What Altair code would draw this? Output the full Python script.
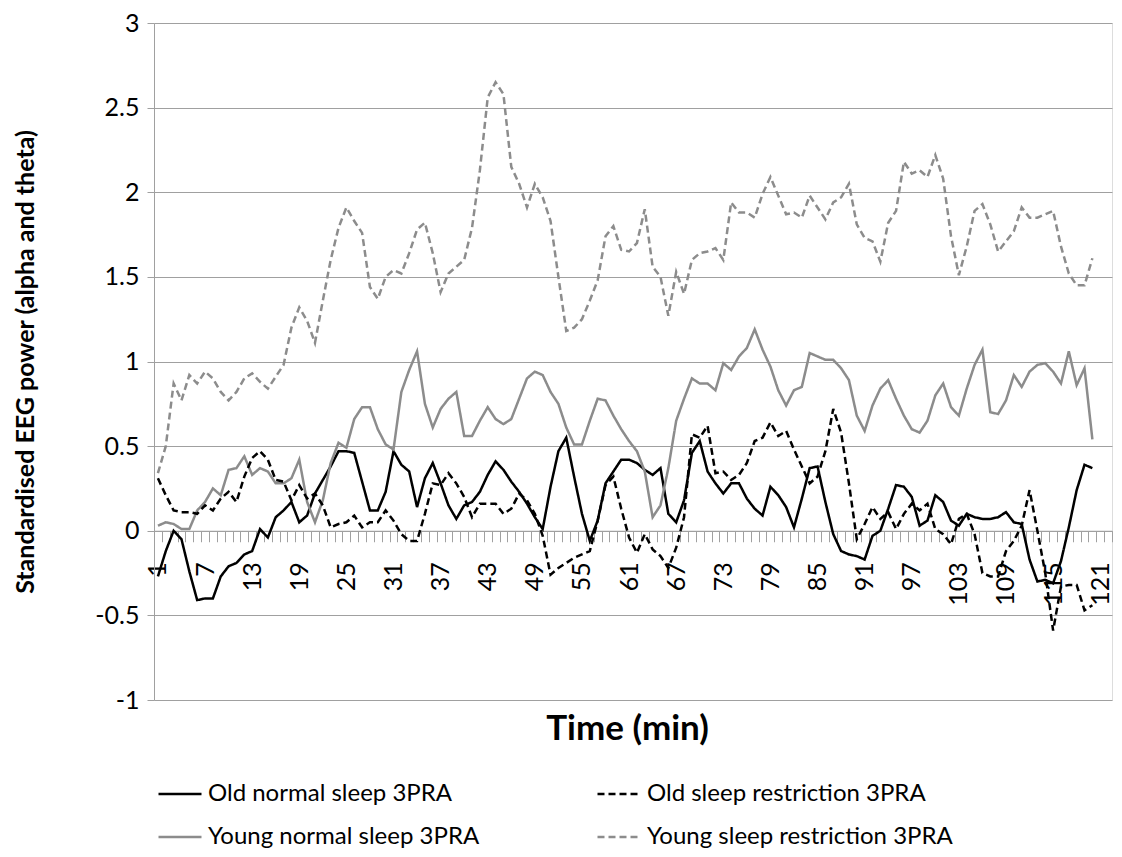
import altair as alt
import pandas as pd

minutes = list(range(1, 121))

old_normal = [-0.27, -0.12, 0.00, -0.05, -0.24, -0.41, -0.40, -0.40, -0.27, -0.21,
              -0.19, -0.14, -0.12, 0.01, -0.04, 0.08, 0.12, 0.17, 0.05, 0.09,
              0.22, 0.30, 0.38, 0.47, 0.47, 0.46, 0.29, 0.12, 0.12, 0.23,
              0.47, 0.39, 0.35, 0.14, 0.31, 0.40, 0.28, 0.15, 0.07, 0.15,
              0.17, 0.23, 0.33, 0.41, 0.36, 0.29, 0.23, 0.16, 0.08, 0.01,
              0.26, 0.47, 0.55, 0.32, 0.10, -0.06, 0.06, 0.28, 0.35, 0.42,
              0.42, 0.40, 0.36, 0.33, 0.37, 0.10, 0.05, 0.18, 0.46, 0.53,
              0.35, 0.28, 0.22, 0.28, 0.28, 0.19, 0.13, 0.09, 0.26, 0.21,
              0.14, 0.02, 0.19, 0.37, 0.38, 0.17, -0.02, -0.12, -0.14, -0.15,
              -0.17, -0.03, 0.00, 0.13, 0.27, 0.26, 0.20, 0.03, 0.06, 0.21,
              0.17, 0.06, 0.03, 0.10, 0.08, 0.07, 0.07, 0.08, 0.11, 0.05,
              0.04, -0.17, -0.30, -0.29, -0.31, -0.18, 0.02, 0.24, 0.39, 0.37]

old_restriction = [0.31, 0.21, 0.12, 0.11, 0.11, 0.10, 0.15, 0.12, 0.19, 0.23,
                   0.17, 0.32, 0.43, 0.47, 0.42, 0.30, 0.29, 0.18, 0.27, 0.19,
                   0.22, 0.15, 0.02, 0.04, 0.05, 0.09, 0.02, 0.05, 0.05, 0.12,
                   0.06, -0.02, -0.06, -0.06, 0.10, 0.28, 0.27, 0.34, 0.28, 0.20,
                   0.08, 0.16, 0.16, 0.16, 0.10, 0.13, 0.22, 0.18, 0.10, -0.03,
                   -0.26, -0.22, -0.19, -0.16, -0.14, -0.12, 0.06, 0.27, 0.32, 0.13,
                   -0.04, -0.13, -0.02, -0.11, -0.15, -0.22, -0.10, 0.08, 0.57, 0.55,
                   0.62, 0.34, 0.35, 0.30, 0.33, 0.40, 0.53, 0.55, 0.64, 0.56,
                   0.59, 0.48, 0.38, 0.28, 0.32, 0.47, 0.72, 0.58, 0.28, -0.05,
                   0.04, 0.14, 0.07, 0.11, 0.01, 0.10, 0.16, 0.12, 0.16, 0.01,
                   -0.02, -0.08, 0.07, 0.10, -0.02, -0.25, -0.27, -0.27, -0.12, -0.06,
                   0.03, 0.24, 0.00, -0.25, -0.59, -0.33, -0.32, -0.32, -0.47, -0.44]

young_normal = [0.03, 0.05, 0.04, 0.01, 0.01, 0.12, 0.17, 0.25, 0.21, 0.36,
                0.37, 0.44, 0.33, 0.37, 0.35, 0.28, 0.28, 0.31, 0.42, 0.17,
                0.05, 0.18, 0.40, 0.52, 0.49, 0.66, 0.73, 0.73, 0.60, 0.51,
                0.48, 0.82, 0.95, 1.06, 0.75, 0.61, 0.72, 0.78, 0.82, 0.56,
                0.56, 0.65, 0.73, 0.66, 0.63, 0.66, 0.78, 0.90, 0.94, 0.92,
                0.82, 0.75, 0.61, 0.51, 0.51, 0.65, 0.78, 0.77, 0.68, 0.60,
                0.53, 0.47, 0.35, 0.08, 0.15, 0.37, 0.65, 0.78, 0.90, 0.87,
                0.87, 0.83, 0.99, 0.95, 1.03, 1.08, 1.19, 1.07, 0.97, 0.83,
                0.74, 0.83, 0.85, 1.05, 1.03, 1.01, 1.01, 0.96, 0.89, 0.68,
                0.59, 0.74, 0.84, 0.89, 0.78, 0.68, 0.60, 0.58, 0.65, 0.80,
                0.87, 0.73, 0.68, 0.84, 0.98, 1.07, 0.70, 0.69, 0.77, 0.92,
                0.85, 0.94, 0.98, 0.99, 0.94, 0.87, 1.06, 0.86, 0.96, 0.54]

young_restriction = [0.34, 0.50, 0.87, 0.77, 0.92, 0.87, 0.94, 0.90, 0.82, 0.77,
                     0.82, 0.90, 0.93, 0.88, 0.84, 0.91, 0.98, 1.20, 1.32, 1.24,
                     1.11, 1.36, 1.60, 1.79, 1.91, 1.83, 1.76, 1.44, 1.37, 1.50,
                     1.54, 1.52, 1.64, 1.78, 1.82, 1.64, 1.41, 1.52, 1.56, 1.60,
                     1.79, 2.13, 2.56, 2.65, 2.58, 2.15, 2.05, 1.91, 2.05, 1.97,
                     1.83, 1.50, 1.18, 1.20, 1.25, 1.36, 1.48, 1.74, 1.80, 1.66,
                     1.65, 1.70, 1.90, 1.56, 1.50, 1.27, 1.53, 1.40, 1.60, 1.64,
                     1.65, 1.67, 1.60, 1.94, 1.88, 1.88, 1.85, 1.99, 2.09, 1.98,
                     1.87, 1.88, 1.85, 1.98, 1.91, 1.84, 1.94, 1.97, 2.05, 1.81,
                     1.73, 1.71, 1.59, 1.82, 1.89, 2.18, 2.11, 2.13, 2.09, 2.22,
                     2.08, 1.74, 1.51, 1.68, 1.89, 1.93, 1.81, 1.65, 1.71, 1.77,
                     1.91, 1.85, 1.85, 1.87, 1.89, 1.68, 1.52, 1.45, 1.45, 1.61]

# legend is filled column by column: column 1 = normal sleep, column 2 = restriction
series_names = ["Old normal sleep 3PRA", "Young normal sleep 3PRA",
                "Old sleep restriction 3PRA", "Young sleep restriction 3PRA"]
series_values = [old_normal, young_normal, old_restriction, young_restriction]
series_colors = ["#000000", "#8c8c8c", "#000000", "#8c8c8c"]
series_dashes = [[1, 0], [1, 0], [7, 4], [7, 4]]

x_label_values = list(range(1, 122, 6))
x_tick_values = [i + 0.5 for i in range(0, 123)]
y_values = [-1, -0.5, 0, 0.5, 1, 1.5, 2, 2.5, 3]

rows = []
for name, vals in zip(series_names, series_values):
    for m, v in zip(minutes, vals):
        rows.append({"minute": m, "value": v, "series": name})
df = pd.DataFrame(rows)

W, H = 958, 677
FONT = "Lato"
GRID = "#a0a0a0"
x_scale = alt.Scale(domain=[0.5, 122.5], nice=False, zero=False)
y_scale = alt.Scale(domain=[-1, 3], nice=False, zero=False)
axis_offset = -H / 4

legend = alt.Legend(title=None, orient="none", legendX=3, legendY=748, columns=2,
                    columnPadding=112, rowPadding=8, symbolType="stroke", symbolSize=1849,
                    symbolStrokeWidth=2.5, labelFontSize=24, labelFont=FONT, labelColor="#000000",
                    labelOffset=5, padding=0, labelLimit=0)

lines = alt.Chart(df).mark_line(strokeWidth=2.5).encode(
    x=alt.X("minute:Q", scale=x_scale,
            axis=alt.Axis(values=x_label_values, labelAngle=270, labelAlign="right",
                          labelBaseline="middle", labelPadding=31, tickSize=0,
                          offset=axis_offset, domainColor=GRID, domainWidth=1,
                          title="Time (min)", titleFontSize=35, titleFontWeight="bold",
                          titleFont=FONT, titleColor="#000000",
                          titleY=198, titleX=W / 2 - 6, titleBaseline="middle", titleAlign="center",
                          labelExpr="'' + datum.value", labelOverlap=False,
                          labelFontSize=25, labelFont=FONT, labelColor="#000000", grid=False)),
    y=alt.Y("value:Q", scale=y_scale,
            axis=alt.Axis(values=y_values, labelExpr="'' + datum.value", labelFontSize=25,
                          labelFont=FONT, labelColor="#000000", labelPadding=8, tickSize=7,
                          tickColor=GRID, domainColor=GRID, gridColor=GRID, grid=True,
                          title="Standardised EEG power (alpha and theta)", titleFontSize=25,
                          titleFontWeight="bold", titleFont=FONT, titleColor="#000000",
                          titleAngle=270, titleX=-129, titleY=H / 2,
                          titleBaseline="middle", titleAlign="center")),
    color=alt.Color("series:N", scale=alt.Scale(domain=series_names, range=series_colors),
                    legend=legend),
    strokeDash=alt.StrokeDash("series:N", scale=alt.Scale(domain=series_names, range=series_dashes),
                              legend=legend),
)

ticks = alt.Chart(df).mark_line(strokeOpacity=0).encode(
    x=alt.X("minute:Q", scale=x_scale,
            axis=alt.Axis(values=x_tick_values, labels=False, tickSize=11, tickColor=GRID,
                          domain=False, offset=axis_offset, orient="bottom", title=None,
                          grid=False)),
    y=alt.Y("value:Q", scale=y_scale),
)

chart = alt.layer(lines, ticks).resolve_axis(x="independent").properties(
    width=W, height=H,
    padding={"left": 146, "top": 15, "right": 2, "bottom": 149},
    autosize=alt.AutoSizeParams(type="none"),
    background="white",
).configure_view(stroke=None).configure(font=FONT)

chart.save("out.html", embed_options={"renderer": "svg", "actions": False})
